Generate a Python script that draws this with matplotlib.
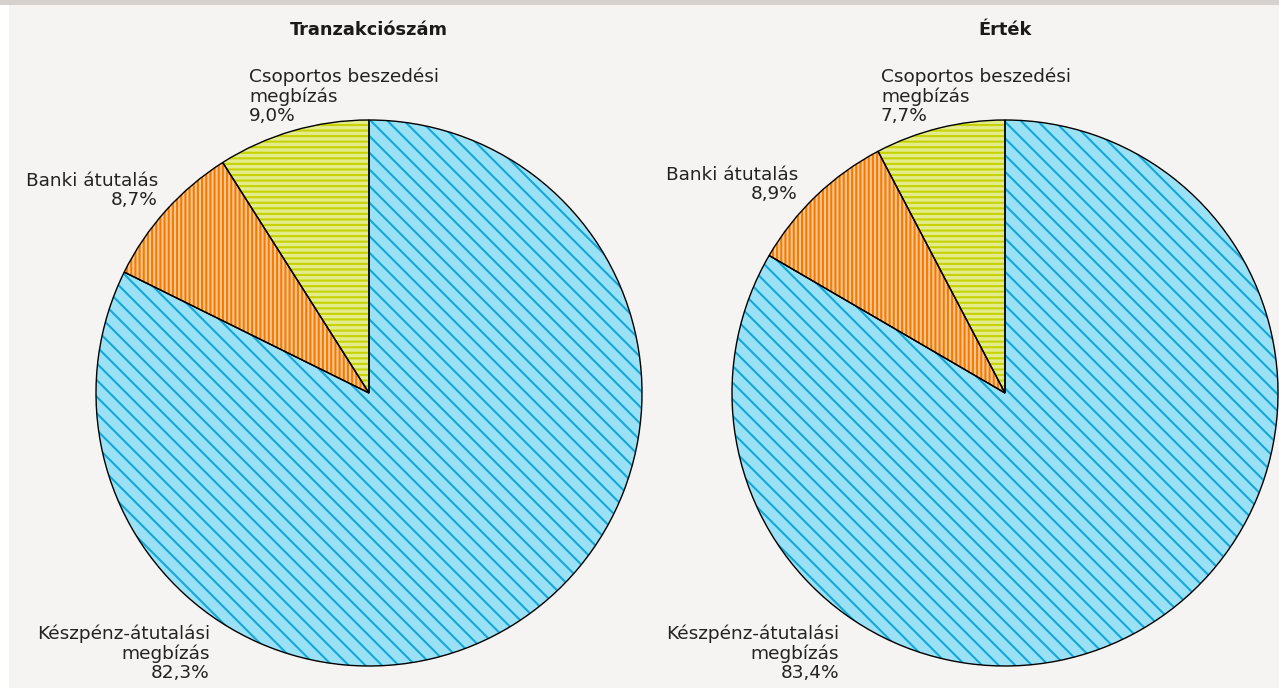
import matplotlib
matplotlib.use("Agg")
import matplotlib.pyplot as plt
from matplotlib.patches import Rectangle

# data
labels = ['Készpénz-átutalási\nmegbízás', 'Banki átutalás', 'Csoportos beszedési\nmegbízás']
tranzakcio = [82.3, 8.7, 9.0]
ertek = [83.4, 8.9, 7.7]
titles = ['Tranzakciószám', 'Érték']

fills = ['#9ae1f5', '#fbc594', '#e4eb8a']
hatch_colors = ['#12a8d9', '#f27c00', '#c6d300']
hatches = ['\\\\', '||||', '---']

W, H = 1279, 688
plt.rcParams['hatch.linewidth'] = 1.5
plt.rcParams['font.family'] = ['DejaVu Sans']

fig = plt.figure(figsize=(W / 100, H / 100), dpi=100, facecolor='#f5f4f2')
fig.patches.append(Rectangle((0, 1 - 5 / H), 1, 5 / H, transform=fig.transFigure,
                             facecolor='#d6d1cc', edgecolor='none', zorder=-5))
fig.patches.append(Rectangle((0, 0), 9 / W, 1 - 5 / H, transform=fig.transFigure,
                             facecolor='white', edgecolor='none', zorder=-5))


def px(x, y):
    return x / W, 1 - y / H


def draw_pie(cx, cy, r, values, title):
    ax = fig.add_axes([(cx - r) / W, (H - cy - r) / H, 2 * r / W, 2 * r / H])
    ax.set_facecolor('none')
    wedges, _ = ax.pie(values, startangle=90, counterclock=False, colors=fills)
    for w, hc, h in zip(wedges, hatch_colors, hatches):
        w.set_hatch(h)
        w.set_edgecolor(hc)
        w.set_linewidth(0)
    ax.pie(values, startangle=90, counterclock=False,
           wedgeprops=dict(facecolor='none', edgecolor='black', linewidth=1.0))
    ax.set_xlim(-1.0, 1.0)
    ax.set_ylim(-1.0, 1.0)
    ax.axis('off')
    fig.text(*px(cx, 30), title, ha='center', va='center', fontsize=12.8,
             fontweight='bold', color='#1a1a1a')


draw_pie(369, 393, 273, tranzakcio, titles[0])
draw_pie(1005, 393, 273, ertek, titles[1])

txt = dict(fontsize=13.3, color='#222222', linespacing=1.08, va='baseline')
pct = lambda v: f'{v:.1f}%'.replace('.', ',')

# left pie labels
fig.text(*px(249, 121), labels[2] + '\n' + pct(tranzakcio[2]), ha='left', **txt)
fig.text(*px(158, 205), labels[1] + '\n' + pct(tranzakcio[1]), ha='right', **txt)
fig.text(*px(210, 678), labels[0] + '\n' + pct(tranzakcio[0]), ha='right', **txt)

# right pie labels
fig.text(*px(881, 121), labels[2] + '\n' + pct(ertek[2]), ha='left', **txt)
fig.text(*px(798, 199), labels[1] + '\n' + pct(ertek[1]), ha='right', **txt)
fig.text(*px(839, 678), labels[0] + '\n' + pct(ertek[0]), ha='right', **txt)

fig.savefig('out.png', dpi=100, facecolor=fig.get_facecolor())
